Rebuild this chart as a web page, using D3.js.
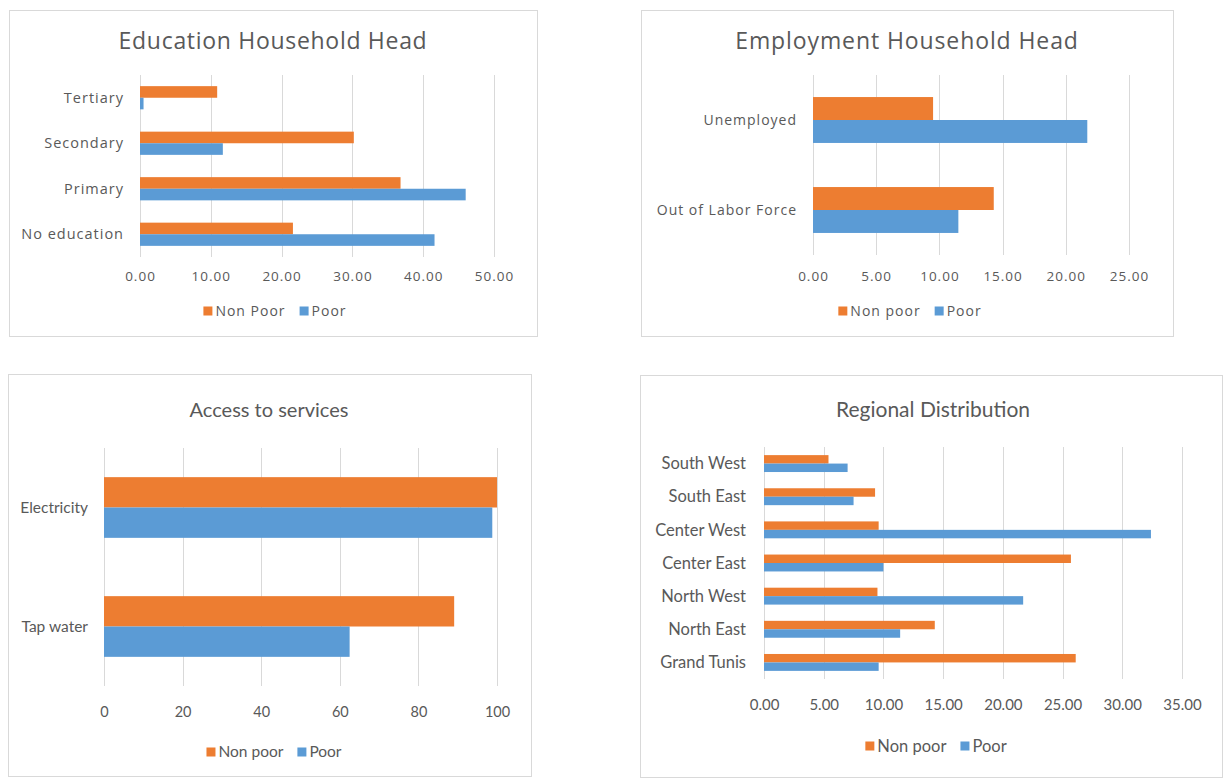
<!DOCTYPE html>
<html>
<head>
<meta charset="utf-8">
<script src="https://cdn.jsdelivr.net/npm/d3@7"></script>
<style>
  html, body { margin: 0; padding: 0; background: #ffffff; }
  svg { display: block; }
</style>
</head>
<body>
<svg id="chart" width="1224" height="778"></svg>
<script>
// ---- data ----
const seriesNames = ["Non poor", "Poor"];

const eduCategories = ["Tertiary", "Secondary", "Primary", "No education"];
const eduNonPoor = [10.9, 30.2, 36.8, 21.6];
const eduPoor = [0.5, 11.7, 46.0, 41.6];
const eduTicks = [0, 10, 20, 30, 40, 50];

const empCategories = ["Unemployed", "Out of Labor Force"];
const empNonPoor = [9.5, 14.3];
const empPoor = [21.7, 11.5];
const empTicks = [0, 5, 10, 15, 20, 25];

const svcCategories = ["Electricity", "Tap water"];
const svcNonPoor = [100, 89.1];
const svcPoor = [98.8, 62.5];
const svcTicks = [0, 20, 40, 60, 80, 100];

const regCategories = ["South West", "South East", "Center West", "Center East", "North West", "North East", "Grand Tunis"];
const regNonPoor = [5.4, 9.3, 9.6, 25.7, 9.5, 14.3, 26.1];
const regPoor = [7.0, 7.5, 32.4, 10.0, 21.7, 11.4, 9.6];
const regTicks = [0, 5, 10, 15, 20, 25, 30, 35];

// ---- styling ----
const ORANGE = "#ED7D31";
const BLUE = "#5B9BD5";
const GRID = "#d9d9d9";
const TEXT = "#595959";

const svg = d3.select("#chart");

function drawPanel(cfg) {
  const g = svg.append("g");
  const ls = cfg.spacing || 0;

  // chart area frame
  g.append("rect")
    .attr("x", cfg.box[0] + 0.5).attr("y", cfg.box[1] + 0.5)
    .attr("width", cfg.box[2] - cfg.box[0]).attr("height", cfg.box[3] - cfg.box[1])
    .attr("fill", "#fff").attr("stroke", GRID).attr("stroke-width", 1);

  // title
  g.append("text")
    .attr("x", cfg.titlePos[0]).attr("y", cfg.titlePos[1])
    .attr("text-anchor", "middle").attr("dominant-baseline", "central")
    .attr("font-family", cfg.font).attr("font-size", cfg.titleSize)
    .attr("letter-spacing", cfg.titleSpacing || 0)
    .attr("fill", TEXT).text(cfg.title);

  const x = d3.scaleLinear().domain(cfg.domain).range([cfg.plotX[0], cfg.plotX[1]]);
  const y = d3.scaleBand().domain(cfg.categories)
    .range([cfg.plotY[0], cfg.plotY[1]])
    .paddingInner(0.49).paddingOuter(0.245);
  const ys = d3.scaleBand().domain(seriesNames).range([0, y.bandwidth()]);

  // vertical gridlines
  g.append("g").selectAll("line").data(cfg.ticks).join("line")
    .attr("x1", d => Math.round(x(d)) + 0.5).attr("x2", d => Math.round(x(d)) + 0.5)
    .attr("y1", cfg.plotY[0]).attr("y2", cfg.plotY[1])
    .attr("stroke", GRID).attr("stroke-width", 1);

  // bottom axis (labels only)
  const axis = g.append("g")
    .attr("transform", `translate(0,${cfg.tickY})`)
    .call(d3.axisBottom(x).tickValues(cfg.ticks).tickFormat(d3.format(cfg.fmt)).tickSize(0).tickPadding(0));
  axis.select(".domain").remove();
  axis.selectAll("text")
    .attr("font-family", cfg.font).attr("font-size", cfg.tickSize)
    .attr("letter-spacing", ls)
    .attr("fill", TEXT).attr("dy", "0.32em");

  // category labels
  g.append("g").selectAll("text").data(cfg.categories).join("text")
    .attr("x", cfg.labelX)
    .attr("y", d => y(d) + y.bandwidth() / 2)
    .attr("text-anchor", "end").attr("dy", "0.35em")
    .attr("font-family", cfg.font).attr("font-size", cfg.labelSize)
    .attr("letter-spacing", ls)
    .attr("fill", TEXT).text(d => d);

  // bars
  const rows = cfg.categories.map((c, i) => ({ c, vals: [cfg.nonPoor[i], cfg.poor[i]] }));
  const colors = [ORANGE, BLUE];
  const rowG = g.append("g").selectAll("g").data(rows).join("g")
    .attr("transform", d => `translate(0,${y(d.c)})`);
  rowG.selectAll("rect").data(d => d.vals.map((v, k) => ({ v, k }))).join("rect")
    .attr("x", x(0))
    .attr("y", d => ys(seriesNames[d.k]))
    .attr("width", d => x(d.v) - x(0))
    .attr("height", ys.bandwidth())
    .attr("fill", d => colors[d.k]);

  // legend, centred
  const leg = g.append("g");
  let cx = 0;
  cfg.legendLabels.forEach((lab, k) => {
    leg.append("rect")
      .attr("x", cx).attr("y", -4.5).attr("width", 9).attr("height", 9)
      .attr("fill", colors[k]);
    const t = leg.append("text")
      .attr("x", cx + 12).attr("y", 0).attr("dy", "0.35em")
      .attr("font-family", cfg.font).attr("font-size", cfg.legendSize)
      .attr("letter-spacing", ls)
      .attr("fill", TEXT).text(lab);
    cx += 12 + t.node().getComputedTextLength() + 14;
  });
  const legW = cx - 14;
  leg.attr("transform", `translate(${cfg.legendPos[0] - legW / 2},${cfg.legendPos[1]})`);
}

drawPanel({
  box: [9, 10, 537, 336],
  title: "Education Household Head", titlePos: [273, 40], titleSize: 23, titleSpacing: 0.7,
  font: "Open Sans", spacing: 1,
  categories: eduCategories, nonPoor: eduNonPoor, poor: eduPoor,
  domain: [0, 50], ticks: eduTicks, fmt: ".2f",
  plotX: [140, 494], plotY: [75, 257], tickY: 277, tickSize: 13.5,
  labelX: 124, labelSize: 14.5,
  legendLabels: ["Non Poor", "Poor"], legendPos: [275, 311], legendSize: 14
});

drawPanel({
  box: [641, 10, 1173, 336],
  title: "Employment Household Head", titlePos: [907, 40], titleSize: 23, titleSpacing: 0.9,
  font: "Open Sans", spacing: 1,
  categories: empCategories, nonPoor: empNonPoor, poor: empPoor,
  domain: [0, 25], ticks: empTicks, fmt: ".2f",
  plotX: [813, 1129], plotY: [75, 255], tickY: 277, tickSize: 13.5,
  labelX: 797, labelSize: 14,
  legendLabels: ["Non poor", "Poor"], legendPos: [910, 311], legendSize: 14
});

drawPanel({
  box: [8, 374, 531, 776],
  title: "Access to services", titlePos: [269, 409], titleSize: 20,
  font: "Lato",
  categories: svcCategories, nonPoor: svcNonPoor, poor: svcPoor,
  domain: [0, 100], ticks: svcTicks, fmt: "d",
  plotX: [104, 497], plotY: [448, 686], tickY: 712, tickSize: 14.5,
  labelX: 88, labelSize: 15.5,
  legendLabels: ["Non poor", "Poor"], legendPos: [274, 752], legendSize: 15.5
});

drawPanel({
  box: [640, 375, 1222, 777],
  title: "Regional Distribution", titlePos: [933, 408], titleSize: 21,
  font: "Lato",
  categories: regCategories, nonPoor: regNonPoor, poor: regPoor,
  domain: [0, 35], ticks: regTicks, fmt: ".2f",
  plotX: [764, 1182], plotY: [447, 679], tickY: 705, tickSize: 15,
  labelX: 746, labelSize: 16.5,
  legendLabels: ["Non poor", "Poor"], legendPos: [936, 746], legendSize: 16.5
});
</script>
</body>
</html>
